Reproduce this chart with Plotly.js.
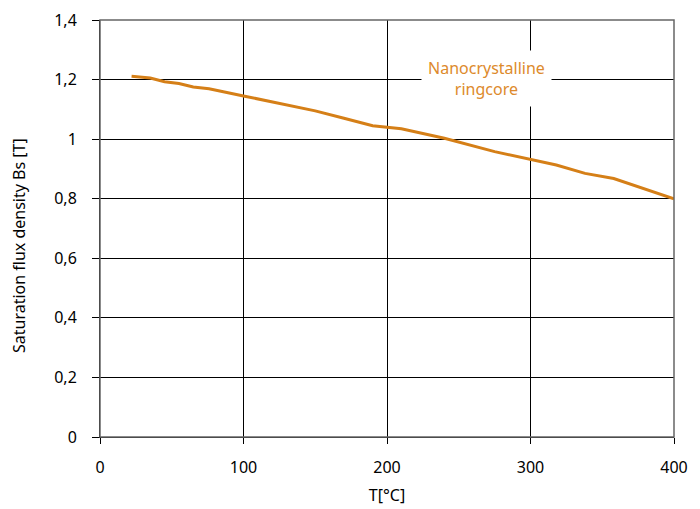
<!DOCTYPE html>
<html>
<head>
<meta charset="utf-8">
<script src="https://cdn.plot.ly/plotly-3.0.1.min.js"></script>
<style>html,body{margin:0;padding:0;background:#fff;}#chart{width:700px;height:509px;}</style>
</head>
<body>
<div id="chart"></div>
<script>
const temperature = [22, 35, 45, 55, 65, 76, 100, 110, 127, 150, 170, 190, 210, 240, 275, 300, 318, 338, 358, 400];
const fluxDensity = [1.211, 1.205, 1.193, 1.187, 1.175, 1.169, 1.145, 1.135, 1.118, 1.095, 1.07, 1.045, 1.035, 1.003, 0.958, 0.933, 0.913, 0.885, 0.868, 0.800];
const seriesName = "Nanocrystalline<br>ringcore";
const xTitle = "T[°C]";
const yTitle = "Saturation flux density Bs [T]";
const xTicks = [0, 100, 200, 300, 400];
const yTicks = [0, 0.2, 0.4, 0.6, 0.8, 1, 1.2, 1.4];

const lineColor = "#d57f17";
const font = "Noto Sans, Open Sans, sans-serif";

Plotly.newPlot("chart", [{
  x: temperature,
  y: fluxDensity,
  type: "scatter",
  mode: "lines",
  line: {color: lineColor, width: 3},
  hoverinfo: "skip"
}], {
  width: 700, height: 509,
  margin: {l: 100, r: 26, t: 20, b: 72},
  paper_bgcolor: "#fff", plot_bgcolor: "#fff",
  separators: ",.",
  showlegend: false,
  font: {family: font, size: 16, color: "#000"},
  xaxis: {
    range: [0, 400], tickvals: xTicks, ticks: "outside", ticklen: 6, tickcolor: "#000",
    ticklabelstandoff: 10,
    showline: true, linecolor: "#000", linewidth: 1, mirror: false,
    showgrid: true, gridcolor: "#000", gridwidth: 1, zeroline: false,
    title: {text: xTitle, font: {family: font, size: 16}, standoff: 12},
    tickfont: {family: font, size: 16}
  },
  yaxis: {
    range: [0, 1.4], tickvals: yTicks, ticks: "outside", ticklen: 7, tickcolor: "#000",
    ticklabelstandoff: 12,
    showline: true, linecolor: "#000", linewidth: 1,
    showgrid: true, gridcolor: "#000", gridwidth: 1, zeroline: false,
    tickfont: {family: font, size: 16}
  },
  shapes: [{type: "rect", xref: "paper", yref: "paper", x0: 0, x1: 1, y0: 0, y1: 1, line: {color: "#666", width: 1.5}}],
  annotations: [{
    x: 269, y: 1.205, xref: "x", yref: "y",
    text: seriesName, showarrow: false,
    font: {family: font, size: 16, color: "#dd8a2c"},
    bgcolor: "#fff", borderpad: 6, align: "center"
  }, {
    x: 0, y: 0.458, xref: "paper", yref: "paper",
    xanchor: "center", yanchor: "middle", xshift: -81,
    text: yTitle, textangle: -90, showarrow: false,
    font: {family: font, size: 16, color: "#000"}
  }]
}, {staticPlot: true});
</script>
</body>
</html>
